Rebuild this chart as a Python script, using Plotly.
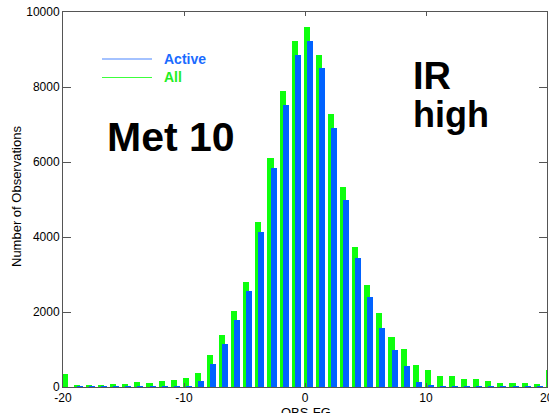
import plotly.graph_objects as go

# ---- data ----
bins = list(range(-20, 21))
all_counts = [340, 45, 45, 45, 72, 72, 125, 107, 152, 179, 240,
              370, 855, 1390, 2025, 2790, 4390, 6100, 7900, 9230,
              9600,
              8860, 7275, 5325, 3740, 2710, 1985, 1345, 1015, 587, 454,
              294, 294, 214, 214, 152, 107, 107, 107, 80, 454]
active_counts = [0, 8, 8, 8, 8, 8, 8, 8, 8, 8, 8,
                 160, 620, 1155, 1795, 2547, 4123, 5832, 7522, 8857,
                 9231,
                 8502, 6916, 4985, 3428, 2387, 1586, 998, 561, 134, 27,
                 8, 8, 8, 8, 8, 8, 8, 8, 8, 8]
x_ticks = [-20, -10, 0, 10, 20]
y_ticks = [0, 2000, 4000, 6000, 8000, 10000]
y_tick_text = ["0", "2000", "4000", "6000", "8000", "10000"]
series_names = ["Active", "All"]
x_title = "OBS-FG"
y_title = "Number of Observations"
label_main = "Met 10"
label_side = ["IR", "high"]

W, H = 549, 413
L, R, T, B = 63, 2, 12, 26
PW, PH = W - L - R, H - T - B

def px(xp):
    return (xp - L) / PW

def py(yp):
    return (H - B - yp) / PH

GREEN = "#0dff0d"
BLUE = "#0062ff"
FONT = "Liberation Sans, Arial, sans-serif"

fig = go.Figure()
fig.add_trace(go.Bar(x=bins, y=all_counts, name=series_names[1],
                     marker=dict(color=GREEN, line=dict(width=0)),
                     width=0.5, offset=-0.1, showlegend=False))
fig.add_trace(go.Bar(x=bins, y=active_counts, name=series_names[0],
                     marker=dict(color=BLUE, line=dict(width=0)),
                     width=0.5, offset=0.15, showlegend=False))

axis_common = dict(showgrid=False, zeroline=False, showline=True,
                   linecolor="#555", linewidth=1, mirror="ticks",
                   ticks="inside", tickcolor="#555",
                   tickfont=dict(family=FONT, size=12, color="black"))

fig.update_xaxes(range=[-20, 20], tickvals=x_ticks,
                 ticktext=[str(v) for v in x_ticks], ticklen=4, **axis_common)
fig.update_yaxes(range=[0, 10000], tickvals=y_ticks, ticktext=y_tick_text,
                 ticklen=8, **axis_common)

shapes = []
annotations = []
# legend drawn by hand
for name, col, lcol, yp in [(series_names[0], "#1a6bff", "#4a86ff", 59),
                            (series_names[1], "#22ee22", "#3cff3c", 77.5)]:
    shapes.append(dict(type="line", xref="paper", yref="paper",
                       x0=px(102), x1=px(152), y0=py(yp), y1=py(yp),
                       line=dict(color=lcol, width=1.2)))
    annotations.append(dict(text=f"<b>{name}</b>", xref="paper", yref="paper",
                            x=px(162), y=py(yp), xanchor="left", yanchor="middle",
                            showarrow=False,
                            font=dict(family=FONT, size=14, color=col)))

# rightmost x tick label (clipped at the figure edge, as in the reference)
annotations.append(dict(text=str(x_ticks[-1]), xref="x", yref="paper",
                        x=x_ticks[-1], y=py(398), xanchor="center", yanchor="middle",
                        showarrow=False, font=dict(family=FONT, size=12, color="black")))

annotations.append(dict(text=f"<b>{label_main}</b>", xref="paper", yref="paper",
                        x=px(105), y=py(137), xanchor="left", yanchor="middle",
                        showarrow=False, font=dict(family=FONT, size=41, color="black")))
annotations.append(dict(text=f"<b>{label_side[0]}</b>", xref="paper", yref="paper",
                        x=px(411), y=py(76), xanchor="left", yanchor="middle",
                        showarrow=False, font=dict(family=FONT, size=38, color="black")))
annotations.append(dict(text=f"<b>{label_side[1]}</b>", xref="paper", yref="paper",
                        x=px(411), y=py(114), xanchor="left", yanchor="middle",
                        showarrow=False, font=dict(family=FONT, size=36, color="black")))
annotations.append(dict(text=y_title, xref="paper", yref="paper",
                        x=px(17), y=py(197), xanchor="center", yanchor="middle",
                        textangle=-90, showarrow=False,
                        font=dict(family=FONT, size=13, color="black")))
annotations.append(dict(text=x_title, xref="paper", yref="paper",
                        x=px(306), y=py(412), xanchor="center", yanchor="middle",
                        showarrow=False,
                        font=dict(family=FONT, size=13, color="black")))

fig.update_layout(width=W, height=H, margin=dict(l=L, r=R, t=T, b=B),
                  paper_bgcolor="white", plot_bgcolor="white",
                  barmode="overlay", bargap=0, showlegend=False,
                  shapes=shapes, annotations=annotations)

fig.write_html("out.html")
